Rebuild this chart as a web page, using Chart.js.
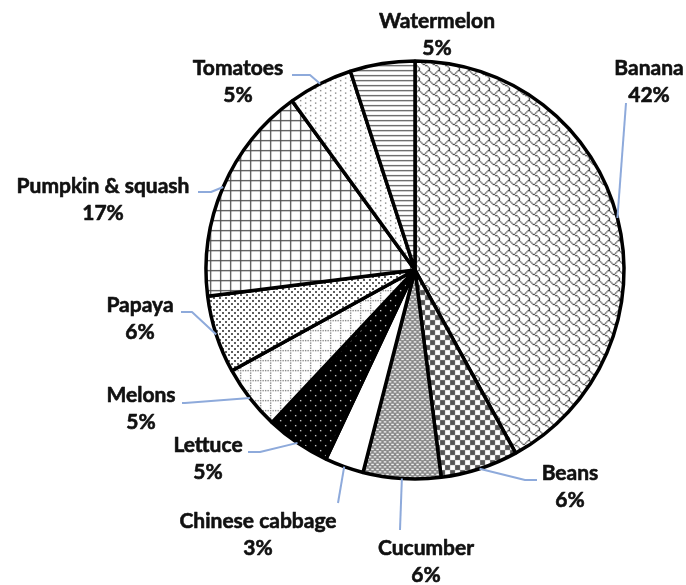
<!DOCTYPE html>
<html><head><meta charset="utf-8">
<script src="https://cdn.jsdelivr.net/npm/chart.js@4/dist/chart.umd.min.js"></script>
<style>html,body{margin:0;padding:0;background:#fff}#wrap{width:686px;height:585px;position:relative}</style>
</head><body><div id="wrap"><canvas id="c"></canvas></div>
<script>
// ---- data ----
const categories = ['Banana','Beans','Cucumber','Chinese cabbage','Lettuce','Melons','Papaya','Pumpkin & squash','Tomatoes','Watermelon'];
const shares = [42, 6, 6, 3, 5, 5, 6, 17, 5, 5];
const shareLabels = ['42%','6%','6%','3%','5%','5%','6%','17%','5%','5%'];

// ---- layout of the data labels (text anchor + leader elbow points) ----
const labelLayout = [
  {x:649, y:75,  path:[[626,103]]},
  {x:570, y:480, path:[[525,480],[537,480]]},
  {x:426, y:555, path:[[400,530]]},
  {x:258, y:528, path:[[338,503]]},
  {x:208, y:452, path:[[260,452],[248,452]]},
  {x:141, y:402, path:[[185,403],[182,403]]},
  {x:140, y:312, path:[[192,312],[181,312]]},
  {x:103, y:193, path:[[211,192],[198,192]]},
  {x:238, y:75,  path:[[310,75],[292,75]]},
  {x:437, y:28,  path:null}
];

// ---- fill patterns (8x8 bit tiles, scaled) ----
function bitPattern(rows, fg, bg, scale) {
  const n = rows.length;
  const t = document.createElement('canvas');
  t.width = 8; t.height = n;
  const g = t.getContext('2d');
  g.fillStyle = bg; g.fillRect(0,0,8,n);
  g.fillStyle = fg;
  rows.forEach((r, y) => { for (let x = 0; x < 8; x++) if (r & (0x80 >> x)) g.fillRect(x, y, 1, 1); });
  const p = document.getElementById('c').getContext('2d').createPattern(t, 'repeat');
  p.setTransform(new DOMMatrix([scale,0,0,scale,0,0]));
  return p;
}
function tilePattern(w, h, draw) {
  const t = document.createElement('canvas');
  t.width = w; t.height = h;
  draw(t.getContext('2d'));
  return document.getElementById('c').getContext('2d').createPattern(t, 'repeat');
}
const S = 1.25;
const fills = [
  bitPattern([0x03,0x84,0x48,0x30,0x0C,0x02,0x01,0x01], '#404040', '#ffffff', S),   // Banana - shingle
  bitPattern([0xF0,0xF0,0xF0,0xF0,0x0F,0x0F,0x0F,0x0F], '#555555', '#ffffff', S),   // Beans - checkerboard
  bitPattern([0xFF,0x66,0xFF,0x99,0xFF,0x66,0xFF,0x99], '#8a8a8a', '#ffffff', S),   // Cucumber - trellis
  '#ffffff',                                                                          // Chinese cabbage
  bitPattern([0x7F,0xFF,0xFF,0xFF,0xF7,0xFF,0xFF,0xFF], '#000000', '#ffffff', S),   // Lettuce - black w/ dots
  bitPattern([0xAA,0x00,0x80,0x00,0x80,0x00,0x80,0x00], '#6a6a6a', '#ffffff', S),   // Melons - dotted grid
  tilePattern(6, 6, g => { g.fillStyle='#fff'; g.fillRect(0,0,6,6); g.fillStyle='#5e5e5e'; g.fillRect(0,0,2,2); g.fillRect(3,3,2,2); }), // Papaya
  bitPattern([0xFF,0x80,0x80,0x80,0x80,0x80,0x80,0x80], '#505050', '#ffffff', S),   // Pumpkin - grid
  bitPattern([0x80,0x00,0x08,0x00,0x80,0x00,0x08,0x00], '#6a6a6a', '#ffffff', S),   // Tomatoes - dots
  bitPattern([0xFF,0x00,0x00,0x00,0xFF,0x00,0x00,0x00], '#5a5a5a', '#ffffff', S)    // Watermelon - horizontal
];

const FONT = 'bold 21px Lato';
const labelPlugin = {
  id: 'pieLabels',
  afterDatasetsDraw(chart) {
    const ctx = chart.ctx;
    const meta = chart.getDatasetMeta(0);
    ctx.save();
    meta.data.forEach((arc, i) => {
      const L = labelLayout[i];
      const a = (arc.startAngle + arc.endAngle) / 2;
      const r = arc.outerRadius;
      if (L.path) {
        ctx.beginPath();
        ctx.moveTo(arc.x + Math.cos(a) * r, arc.y + Math.sin(a) * r);
        L.path.forEach(p => ctx.lineTo(p[0], p[1]));
        ctx.strokeStyle = '#8eaadb';
        ctx.lineWidth = 2;
        ctx.stroke();
      }
      ctx.fillStyle = '#111111';
      ctx.strokeStyle = '#111111';
      ctx.lineWidth = 0.6;
      ctx.lineJoin = 'round';
      ctx.font = FONT;
      ctx.textAlign = 'center';
      ctx.textBaseline = 'alphabetic';
      ctx.fillText(categories[i], L.x, L.y);
      ctx.strokeText(categories[i], L.x, L.y);
      ctx.fillText(shareLabels[i], L.x, L.y + 27);
      ctx.strokeText(shareLabels[i], L.x, L.y + 27);
    });
    ctx.restore();
  }
};

new Chart(document.getElementById('c'), {
  type: 'pie',
  data: {
    labels: categories,
    datasets: [{
      data: shares,
      backgroundColor: fills,
      borderColor: '#000000',
      borderWidth: 3.5,
      borderAlign: 'center'
    }]
  },
  options: {
    responsive: true,
    maintainAspectRatio: false,
    animation: false,
    radius: 209,
    layout: { padding: { left: 205, right: 61, top: 60, bottom: 105 } },
    plugins: { legend: { display: false }, tooltip: { enabled: false } },
    events: []
  },
  plugins: [labelPlugin]
});
</script>
</body></html>
